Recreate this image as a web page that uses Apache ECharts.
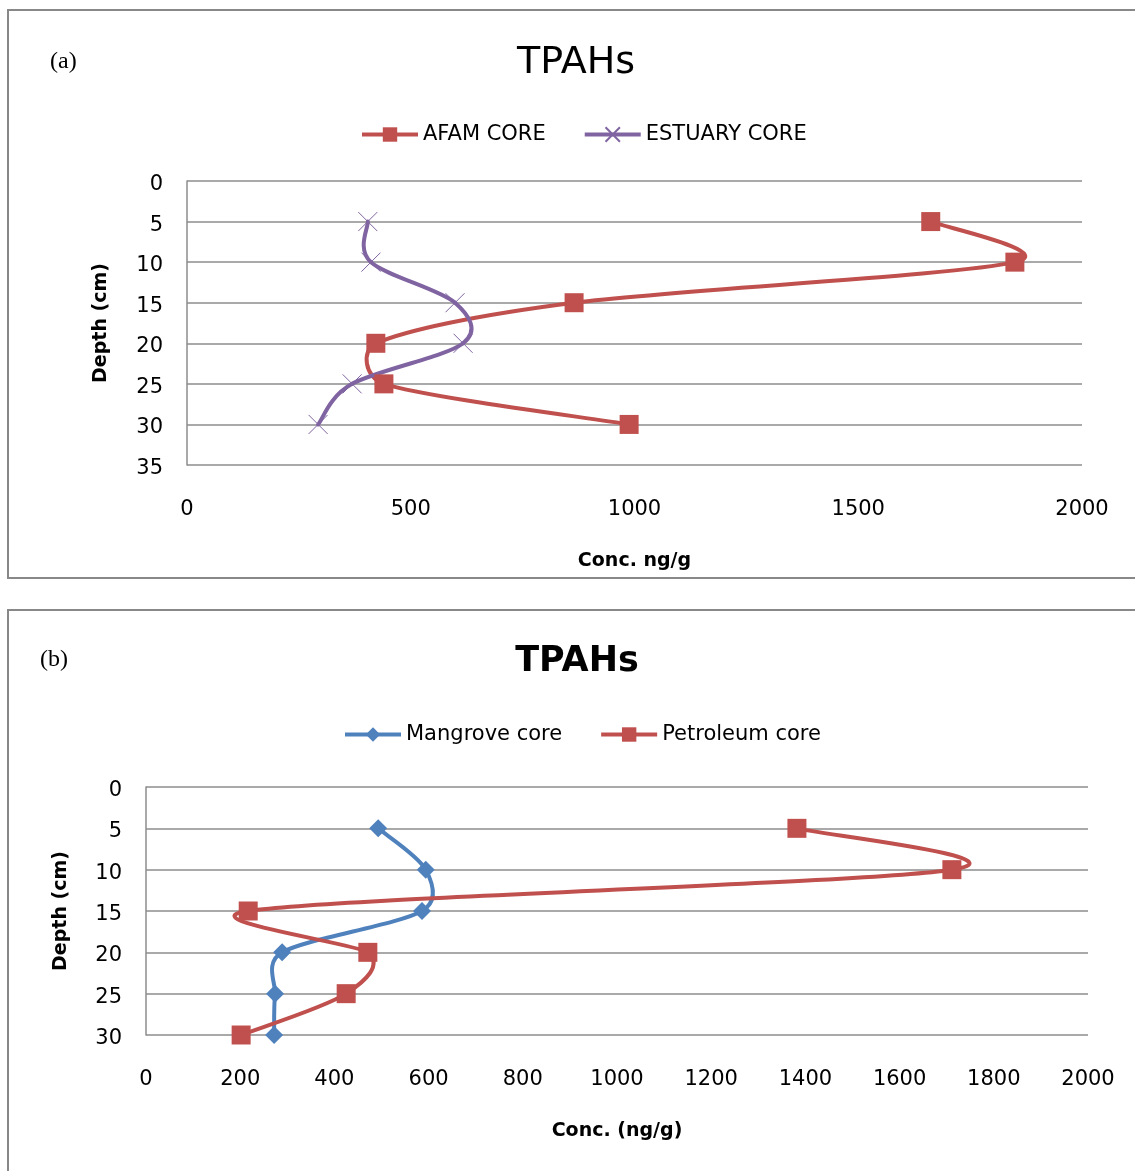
<!DOCTYPE html>
<html><head><meta charset="utf-8">
<script src="https://cdn.jsdelivr.net/npm/echarts@6/dist/echarts.min.js"></script>
<style>html,body{margin:0;padding:0;background:#fff}#c{width:1135px;height:1171px}</style>
</head><body><div id="c"></div>
<script>
// Panel (a)
const depthsA = [5, 10, 15, 20, 25, 30];
const afamCore = [1662, 1850, 865, 422, 440, 988];
const estuaryCore = [404, 411, 599, 617, 369, 293];
// Panel (b)
const depthsB = [5, 10, 15, 20, 25, 30];
const mangroveCore = [493, 594, 586, 289, 274, 272];
const petroleumCore = [1382, 1711, 217, 471, 425, 202];

const pair = (xs, ys) => xs.map((v, i) => [v, ys[i]]);
const FONT = 'DejaVu Sans';
const gridColor = '#8c8c8c';
const RED = '#C0504D', PURPLE = '#8064A2', BLUE = '#4F81BD';
const LW = 4;

function yAx(gi, max, gap) {
  return {
    gridIndex: gi, type: 'value', inverse: true, min: 0, max: max, interval: 5,
    name: 'Depth (cm)', nameLocation: 'middle', nameGap: gap,
    nameTextStyle: {fontFamily: FONT, fontWeight: 'bold', fontSize: 19, color: '#000'},
    axisLine: {show: true, lineStyle: {color: gridColor, width: 1.5}},
    axisTick: {show: false},
    axisLabel: {
      fontFamily: FONT, fontSize: 21, color: '#000', margin: 24,
      formatter: v => '{v|' + v + '}',
      rich: {v: {fontFamily: FONT, fontSize: 21, color: '#000', padding: [7, 0, 0, 0]}}
    },
    splitLine: {show: true, lineStyle: {color: gridColor, width: 1.5}}
  };
}
function xAx(gi, interval, name, gap) {
  return {
    gridIndex: gi, type: 'value', min: 0, max: 2000, interval: interval,
    name: name, nameLocation: 'middle', nameGap: gap,
    nameTextStyle: {fontFamily: FONT, fontWeight: 'bold', fontSize: 19, color: '#000'},
    axisLine: {show: false}, axisTick: {show: false},
    axisLabel: {fontFamily: FONT, fontSize: 21, color: '#000', margin: 34, formatter: v => String(v)},
    splitLine: {show: false}
  };
}

const dist = (a, b) => Math.hypot(a[0] - b[0], a[1] - b[1]);
// Excel-style smoothed curve drawn in pixel space via the axes' coordinate conversion
function curveSeries(gi, xs, ys, color) {
  return {
    type: 'custom', xAxisIndex: gi, yAxisIndex: gi, z: 1, silent: true,
    data: [[xs[0], ys[0]]],
    renderItem: function (params, api) {
      const p = xs.map((v, i) => api.coord([v, ys[i]]));
      const children = [];
      for (let i = 0; i < p.length - 1; i++) {
        const p0 = p[Math.max(i - 1, 0)], p1 = p[i], p2 = p[i + 1], p3 = p[Math.min(i + 2, p.length - 1)];
        const d12 = dist(p1, p2), d02 = dist(p0, p2), d13 = dist(p1, p3);
        let f = 1 / 6;
        const m = Math.max(d02, d13);
        if (m / 6 >= d12 / 2) f = d12 / (2 * m);
        children.push({
          type: 'bezierCurve',
          shape: {
            x1: p1[0], y1: p1[1], x2: p2[0], y2: p2[1],
            cpx1: p1[0] + f * (p2[0] - p0[0]), cpy1: p1[1] + f * (p2[1] - p0[1]),
            cpx2: p2[0] - f * (p3[0] - p1[0]), cpy2: p2[1] - f * (p3[1] - p1[1])
          },
          style: {fill: null, stroke: color, lineWidth: LW, lineCap: 'round'}
        });
      }
      return {type: 'group', children: children};
    }
  };
}
function markerSeries(name, gi, xs, ys, color, symbol, size, itemStyle) {
  return {
    name: name, type: 'line', xAxisIndex: gi, yAxisIndex: gi, z: 3, data: pair(xs, ys),
    symbol: symbol, symbolSize: size, showSymbol: true,
    lineStyle: {color: color, width: LW, opacity: 0},
    itemStyle: itemStyle || {color: color}
  };
}

const legendBase = {
  itemWidth: 56, itemHeight: 18, itemGap: 37,
  textStyle: {fontFamily: FONT, fontSize: 21, color: '#000'},
  lineStyle: {opacity: 1, width: LW}
};

const chart = echarts.init(document.getElementById('c'), null, {renderer: 'canvas'});
chart.setOption({
  animation: false,
  backgroundColor: '#fff',
  graphic: [
    {type: 'rect', shape: {x: 8, y: 10, width: 1140, height: 568}, style: {fill: 'none', stroke: '#888', lineWidth: 2}},
    {type: 'rect', shape: {x: 8, y: 610, width: 1140, height: 580}, style: {fill: 'none', stroke: '#888', lineWidth: 2}},
    {type: 'text', style: {x: 50, y: 62, text: '(a)', font: '24px "Liberation Serif"', fill: '#000', textVerticalAlign: 'middle'}},
    {type: 'text', style: {x: 40, y: 660, text: '(b)', font: '24px "Liberation Serif"', fill: '#000', textVerticalAlign: 'middle'}},
    {type: 'text', style: {x: 576, y: 63, text: 'TPAHs', font: '38px "DejaVu Sans"', fill: '#000', textAlign: 'center', textVerticalAlign: 'middle'}},
    {type: 'text', style: {x: 577, y: 662, text: 'TPAHs', font: 'bold 35px "DejaVu Sans"', fill: '#000', textAlign: 'center', textVerticalAlign: 'middle'}}
  ],
  legend: [
    Object.assign({left: 355, top: 119, data: ['AFAM CORE', 'ESTUARY CORE']}, legendBase),
    Object.assign({left: 338, top: 719, data: ['Mangrove core', 'Petroleum core']}, legendBase)
  ],
  grid: [
    {left: 187, top: 181, width: 895, height: 284},
    {left: 146, top: 787, width: 942, height: 248}
  ],
  xAxis: [xAx(0, 500, 'Conc. ng/g', 87), xAx(1, 200, 'Conc. (ng/g)', 87)],
  yAxis: [yAx(0, 35, 76), yAx(1, 30, 75)],
  series: [
    curveSeries(0, afamCore, depthsA, RED),
    curveSeries(0, estuaryCore, depthsA, PURPLE),
    curveSeries(1, mangroveCore, depthsB, BLUE),
    curveSeries(1, petroleumCore, depthsB, RED),
    markerSeries('AFAM CORE', 0, afamCore, depthsA, RED, 'rect', 19),
    markerSeries('ESTUARY CORE', 0, estuaryCore, depthsA, PURPLE, 'path://M0 0L10 10M10 0L0 10', 19,
      {color: 'rgba(0,0,0,0)', borderColor: PURPLE, borderWidth: 1}),
    markerSeries('Mangrove core', 1, mangroveCore, depthsB, BLUE, 'diamond', 18),
    markerSeries('Petroleum core', 1, petroleumCore, depthsB, RED, 'rect', 19)
  ]
});
</script></body></html>
